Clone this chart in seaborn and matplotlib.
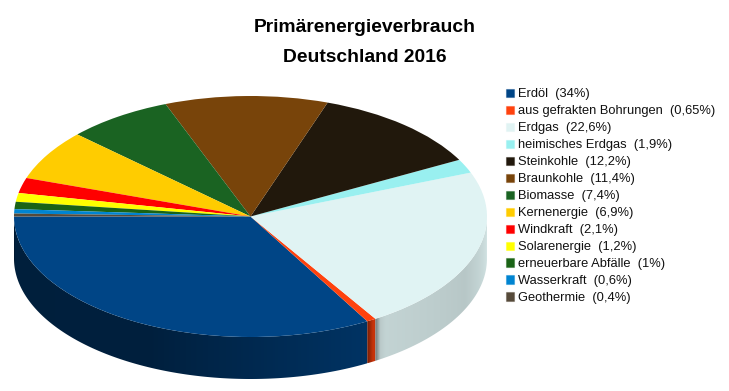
import numpy as np
import matplotlib as mpl
from matplotlib import pyplot as plt
from matplotlib.patches import Patch, Polygon
import seaborn as sns

sns.set_theme(style="white")
mpl.rcParams['font.family'] = ["Liberation Sans", "DejaVu Sans"]

LABELS = [
    "Erdöl  (34%)",
    "aus gefrakten Bohrungen  (0,65%)",
    "Erdgas  (22,6%)",
    "heimisches Erdgas  (1,9%)",
    "Steinkohle  (12,2%)",
    "Braunkohle  (11,4%)",
    "Biomasse  (7,4%)",
    "Kernenergie  (6,9%)",
    "Windkraft  (2,1%)",
    "Solarenergie  (1,2%)",
    "erneuerbare Abfälle  (1%)",
    "Wasserkraft  (0,6%)",
    "Geothermie  (0,4%)",
]
VALUES = [34, 0.65, 22.6, 1.9, 12.2, 11.4, 7.4, 6.9, 2.1, 1.2, 1, 0.6, 0.4]
COLORS = [
    "#004586", "#ff420e", "#e0f3f3", "#99f0f0", "#21180c", "#78440a", "#1a6322",
    "#ffcc00", "#ff0000", "#ffff00", "#1a6316", "#0084d1", "#564a3a",
]

W, H = 729, 391
CX, CY = 250.5, 216.5
RX, RY = 236.5, 120.5
DEPTH = 42 / RY

fig = plt.figure(figsize=(W / 100, H / 100), dpi=100)
ax = fig.add_axes([0, 0, 1, 1])
wedges, _ = ax.pie(
    VALUES, colors=COLORS, startangle=180, counterclock=True,
    wedgeprops={"linewidth": 0}, normalize=True,
)
for w in wedges:
    w.set_zorder(5)


# the rim of the pie, only the front half shows
def shade(theta, start):
    base = np.interp(theta, [180, 245, 300, 305, 335, 360], [0.45, 0.46, 0.75, 0.87, 0.82, 0.95])
    # each slice starts a bit darker on its left edge
    return base * np.minimum(1, 0.6 + 0.4 * (theta - start) / 1.5)


for w in wedges:
    t1, t2 = max(w.theta1, 180), min(w.theta2, 360)
    if t2 <= t1:
        continue
    rgb = np.array(mpl.colors.to_rgb(w.get_facecolor()))
    th = np.radians(np.linspace(t1, t2, 200))
    x, y = np.cos(th), np.sin(th)
    outline = np.column_stack([
        np.r_[x, x[::-1]],
        np.r_[y, y[::-1] - DEPTH],
    ])
    clip = Polygon(outline, closed=True, transform=ax.transData, fill=False, lw=0)
    ax.add_patch(clip)
    # one column per step along x, coloured by the angle at that x
    xs = np.linspace(x[0], x[-1], 800)
    thetas = 360 - np.degrees(np.arccos(np.clip(xs, -1, 1)))
    colors = rgb[None, None, :] * shade(thetas, t1)[None, :, None]
    im = ax.imshow(
        colors, extent=(x[0], x[-1], y.min() - DEPTH, y.max()), aspect="auto",
        interpolation="bilinear", zorder=2,
    )
    im.set_clip_path(clip)

ax.set_aspect("auto")
ax.set_xlim(-CX / RX, (W - CX) / RX)
ax.set_ylim(-(H - CY) / RY, CY / RY)
ax.axis("off")

fig.text(365 / W, 1 - 28 / H, "Primärenergieverbrauch", ha="center", va="center",
         fontsize=13.9, fontweight="bold", color="black")
fig.text(365 / W, 1 - 57 / H, "Deutschland 2016", ha="center", va="center",
         fontsize=13.9, fontweight="bold", color="black")

handles = [Patch(facecolor=c, edgecolor=mpl.colors.to_rgba(c, 0.4), lw=0.8) for c in COLORS]
fig.legend(
    handles, LABELS, loc="upper left", bbox_to_anchor=(506 / W, 1 - 88.5 / H),
    frameon=False, fontsize=9.3, labelspacing=0.385, handlelength=0.62, handleheight=0.62,
    handletextpad=0.3, borderpad=0, borderaxespad=0, labelcolor="#111111",
)

plt.savefig("out.png", dpi=100)
